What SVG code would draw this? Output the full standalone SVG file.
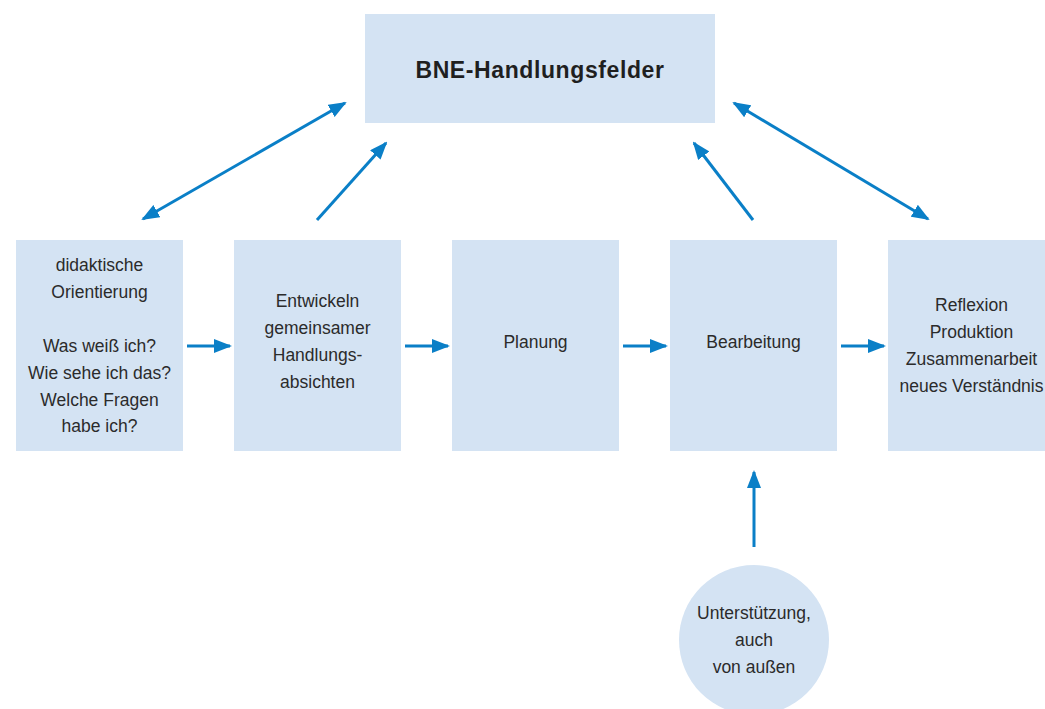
<svg xmlns="http://www.w3.org/2000/svg" width="1045" height="709" viewBox="0 0 1045 709">
<style>
.box{fill:#d4e3f3}
.t{font-family:"Liberation Sans",Arial,sans-serif;font-size:17.5px;fill:#2b2b2b;text-anchor:middle}
.title{font-family:"Liberation Sans",Arial,sans-serif;font-size:23px;font-weight:bold;fill:#1f1f1f;text-anchor:middle;letter-spacing:0.6px}
.c{stroke:#0a7fc7;stroke-width:3;fill:none}
</style>
<defs>
<marker id="ah" markerUnits="userSpaceOnUse" markerWidth="18" markerHeight="14" refX="16" refY="7" orient="auto-start-reverse" viewBox="0 0 18 14">
<path d="M0,0 L18,7 L0,14 Z" fill="#0a7fc7"/>
</marker>
</defs>
<rect width="1045" height="709" fill="#ffffff"/>
<g id="top">
<rect class="box" x="365" y="14" width="350" height="109"/>
<text class="title" x="540" y="78">BNE-Handlungsfelder</text>
</g>
<g id="n1">
<rect class="box" x="16" y="240" width="167" height="211"/>
<text class="t" x="99.5" y="271">didaktische</text>
<text class="t" x="99.5" y="298">Orientierung</text>
<text class="t" x="99.5" y="352">Was weiß ich?</text>
<text class="t" x="99.5" y="379">Wie sehe ich das?</text>
<text class="t" x="99.5" y="406">Welche Fragen</text>
<text class="t" x="99.5" y="432">habe ich?</text>
</g>
<g id="n2">
<rect class="box" x="234" y="240" width="167" height="211"/>
<text class="t" x="317.5" y="307">Entwickeln</text>
<text class="t" x="317.5" y="334">gemeinsamer</text>
<text class="t" x="317.5" y="361">Handlungs-</text>
<text class="t" x="317.5" y="388">absichten</text>
</g>
<g id="n3">
<rect class="box" x="452" y="240" width="167" height="211"/>
<text class="t" x="535.5" y="348">Planung</text>
</g>
<g id="n4">
<rect class="box" x="670" y="240" width="167" height="211"/>
<text class="t" x="753.5" y="348">Bearbeitung</text>
</g>
<g id="n5">
<rect class="box" x="888" y="240" width="167" height="211"/>
<text class="t" x="971.5" y="311">Reflexion</text>
<text class="t" x="971.5" y="338">Produktion</text>
<text class="t" x="971.5" y="365">Zusammenarbeit</text>
<text class="t" x="971.5" y="392">neues Verständnis</text>
</g>
<g id="n6">
<circle class="box" cx="754" cy="640" r="75"/>
<text class="t" x="754" y="619">Unterstützung,</text>
<text class="t" x="754" y="646">auch</text>
<text class="t" x="754" y="673">von außen</text>
</g>
<g id="connectors">
<line class="c" x1="187" y1="346" x2="230" y2="346" marker-end="url(#ah)"/>
<line class="c" x1="405" y1="346" x2="448" y2="346" marker-end="url(#ah)"/>
<line class="c" x1="623" y1="346" x2="666" y2="346" marker-end="url(#ah)"/>
<line class="c" x1="841" y1="346" x2="884" y2="346" marker-end="url(#ah)"/>
<line class="c" x1="143" y1="219" x2="345" y2="103" marker-start="url(#ah)" marker-end="url(#ah)"/>
<line class="c" x1="317" y1="220" x2="386" y2="143" marker-end="url(#ah)"/>
<line class="c" x1="753" y1="220" x2="694" y2="143" marker-end="url(#ah)"/>
<line class="c" x1="734" y1="103" x2="928" y2="219" marker-start="url(#ah)" marker-end="url(#ah)"/>
<line class="c" x1="754" y1="547" x2="754" y2="472" marker-end="url(#ah)"/>
</g>
</svg>
